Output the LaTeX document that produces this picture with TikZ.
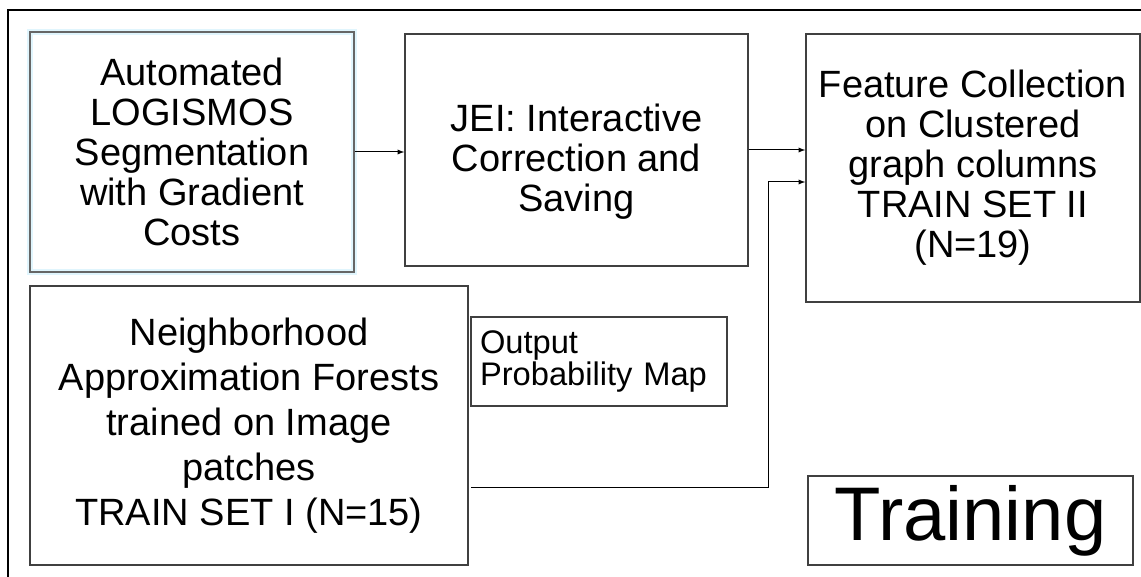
\documentclass[tikz,border=0pt]{standalone}
\usepackage{fontspec}
\setmainfont{Liberation Sans}
\usepackage{tikz}

\begin{document}
\begin{tikzpicture}[x=0.75pt, y=-0.75pt,
  box/.style={draw=black!75, line width=1.1pt, align=center, inner sep=0pt,
    font=\fontsize{28.5}{30}\selectfont},
  boxtext/.style={align=center, inner sep=0pt, font=\fontsize{28.5}{30}\selectfont},
  arr/.style={->, >=latex, line width=0.75pt}]
  \useasboundingbox (0,0) rectangle (1141,577);

  % slide frame
  \draw[line width=1pt] (1141,10) -- (8,10) -- (8,577);

  \node[box, draw=black!60, preaction={draw=cyan!12, line width=5pt},
    minimum width=243pt, minimum height=180pt] (auto) at (192,152)
    {Automated\\LOGISMOS\\Segmentation\\with Gradient\\Costs};
  \node[box, minimum width=257.25pt, minimum height=174pt] (jei) at (576.5,150) {};
  \node[boxtext] (jeitext) at (576.5,162)
    {JEI: Interactive\\Correction and\\Saving};
  \node[box, minimum width=250.5pt, minimum height=201pt] (feat) at (973,168)
    {Feature Collection\\on Clustered\\graph columns\\TRAIN SET II\\(N=19)};
  \node[box, minimum width=328.5pt, minimum height=209.25pt,
    font=\fontsize{28.5}{33.75}\selectfont] (naf) at (249,425.5)
    {Neighborhood\\Approximation Forests\\trained on Image\\patches\\TRAIN SET I (N=15)};
  \node[box, align=left, inner xsep=6.75pt, text width=178.5pt,
    minimum height=66.75pt, font=\fontsize{24.5}{24.5}\selectfont] (prob) at (599,361.5)
    {Output\\Probability Map};
  \node[box, minimum width=243.75pt, minimum height=66.75pt,
    font=\fontsize{57}{57}\selectfont] (train) at (970.5,520.5) {Training};

  % connectors
  \draw[arr] (auto.east) -- (auto.east -| jei.west);
  \draw[arr] (jei.east) -- (jei.east -| feat.west);
  \coordinate (nafout) at (471,487);
  \coordinate (bend) at (768,182);
  \draw[arr] (nafout) -| (bend) -- (bend -| feat.west);
\end{tikzpicture}
\end{document}
